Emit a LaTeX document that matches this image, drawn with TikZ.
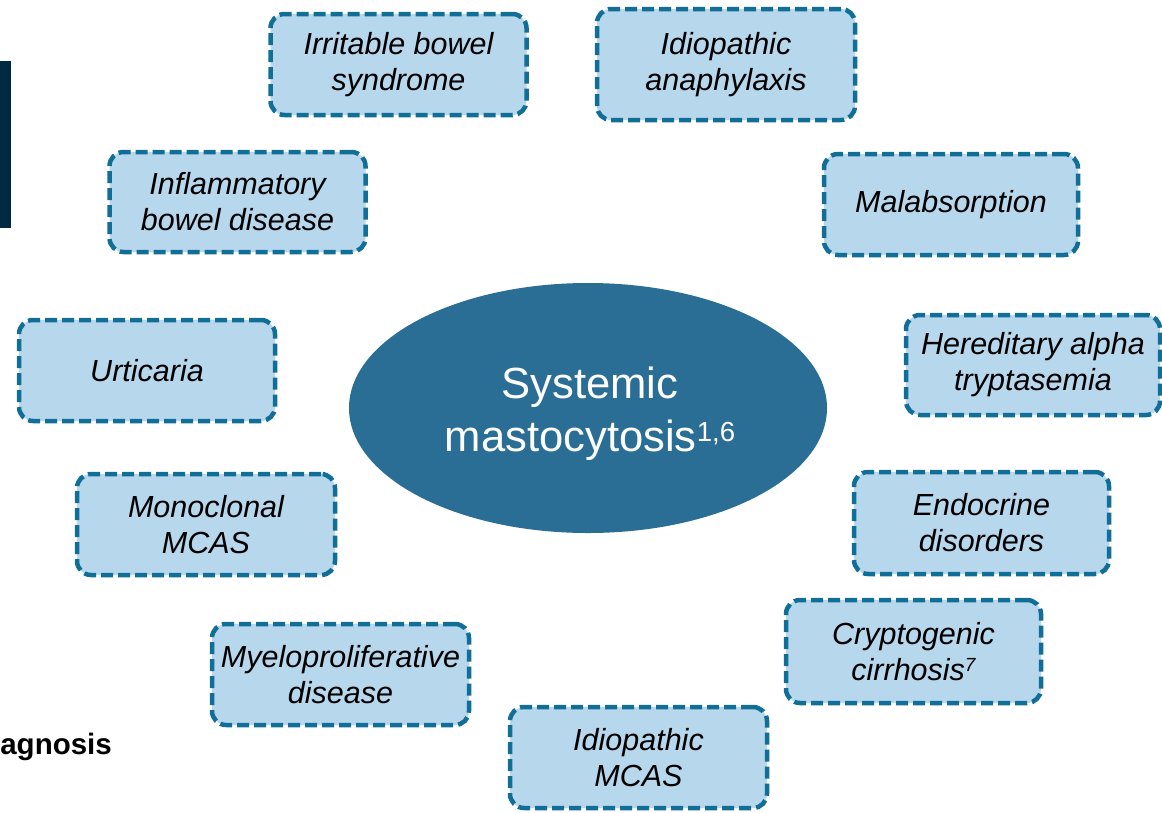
\documentclass[tikz,border=0pt]{standalone}
\usepackage{fontspec}
\setmainfont{Liberation Sans}
\usetikzlibrary{shapes.geometric}
\definecolor{bordc}{RGB}{17,110,150}
\definecolor{fillc}{RGB}{183,215,236}
\definecolor{ellc}{RGB}{42,110,150}
\definecolor{barc}{RGB}{0,42,66}
\tikzset{
  dbox/.style={draw=bordc, fill=fillc, line width=4.5pt, dash pattern=on 12pt off 5pt,
    rounded corners=14pt, minimum width=256pt, minimum height=101pt, inner sep=0pt,
    align=center, font=\fontsize{30.5}{36}\selectfont\itshape, text=black},
  mainell/.style={ellipse, fill=ellc, minimum width=478pt, minimum height=250pt, inner sep=0pt},
  mainlbl/.style={align=center, text=white, inner sep=0pt, font=\fontsize{43.6}{53}\selectfont}
}
\begin{document}
\begin{tikzpicture}[x=1pt,y=-1pt]
\useasboundingbox (0,0) rectangle (1162,812);
\fill[barc] (0,61) rectangle (11,228);
\node[mainell] (sm) at (588,408) {};
\node[mainlbl] (smt) at (590,414) {Systemic\\mastocytosis\raisebox{10pt}{\fontsize{27.6}{28}\selectfont 1,6}};
\node[dbox] (ibs) at (398.5,64.5) {Irritable bowel\\syndrome};
\node[dbox, minimum height=111pt, minimum width=258pt] (ana) at (726,64.5) {Idiopathic\\anaphylaxis};
\node[dbox, minimum height=100pt] (ibd) at (237.5,202) {Inflammatory\\bowel disease};
\node[dbox, minimum width=254pt] (mal) at (951,204.5) {Malabsorption};
\node[dbox] (urt) at (147,370.5) {Urticaria};
\node[dbox, minimum width=254pt, minimum height=100pt] (hat) at (1033,365) {Hereditary alpha\\tryptasemia};
\node[dbox, minimum width=258pt] (mon) at (206,524.5) {Monoclonal\\MCAS};
\node[dbox, minimum width=255pt, minimum height=102pt] (end) at (981.5,523) {Endocrine\\disorders};
\node[dbox, minimum width=257pt] (mye) at (340.5,674.5) {Myeloproliferative\\disease};
\node[dbox, minimum width=255pt, minimum height=103pt] (cry) at (913.5,651.5) {Cryptogenic\\cirrhosis\raisebox{9pt}{\fontsize{19}{19}\selectfont\itshape 7}};
\node[dbox, minimum width=257pt] (imc) at (638.5,757.5) {Idiopathic\\MCAS};
\node[anchor=base east, inner sep=0pt, font=\fontsize{29.5}{30}\selectfont\bfseries] (dx) at (112,754) {agnosis};
\end{tikzpicture}
\end{document}
